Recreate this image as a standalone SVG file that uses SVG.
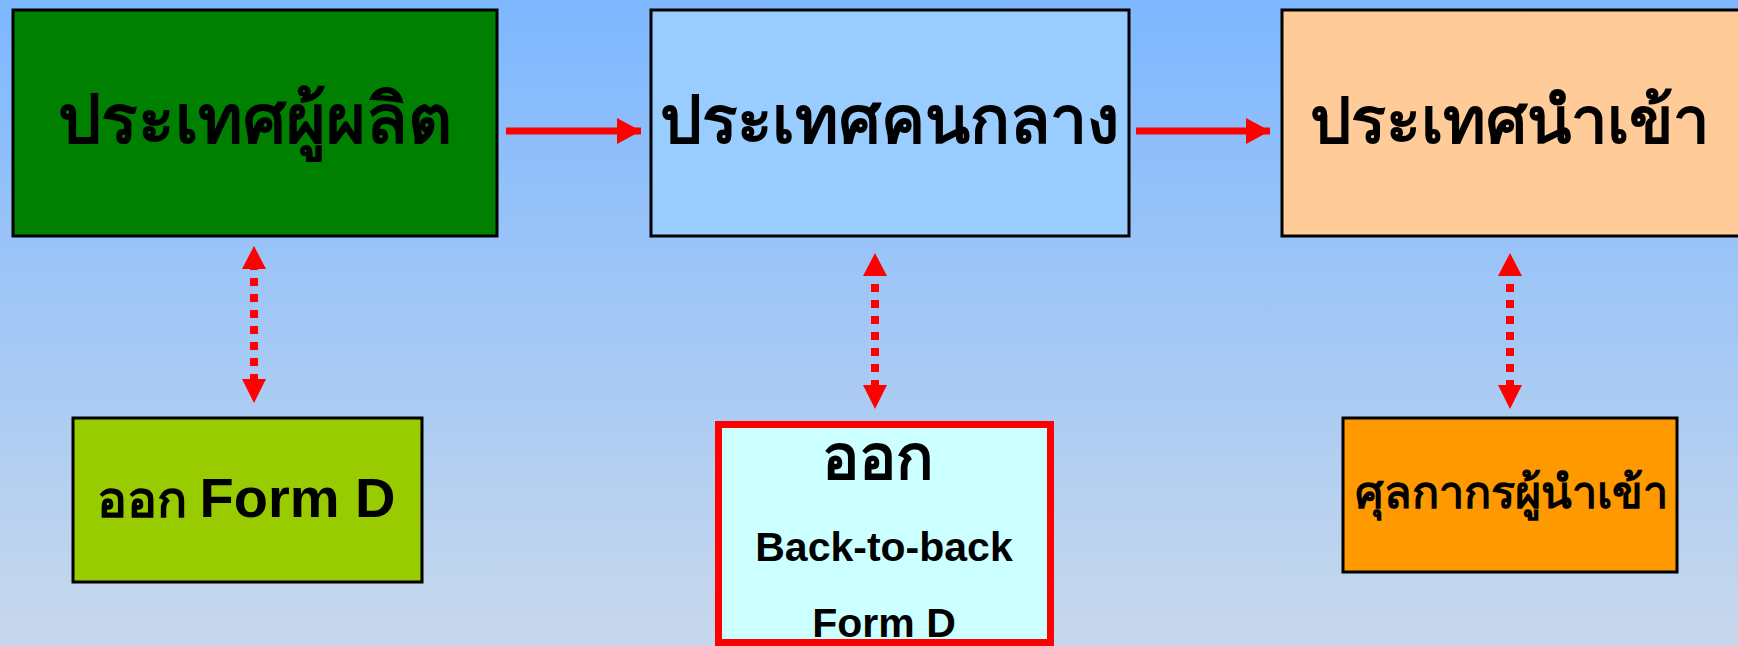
<svg xmlns="http://www.w3.org/2000/svg" width="1738" height="646" viewBox="0 0 1738 646">
<defs>
<linearGradient id="bg" x1="0" y1="0" x2="0" y2="1">
<stop offset="0" stop-color="#7DB7FF"/>
<stop offset="1" stop-color="#C8D8EC"/>
</linearGradient>
<marker id="ah" viewBox="0 0 24 26" refX="24" refY="13" markerWidth="24" markerHeight="26" markerUnits="userSpaceOnUse" orient="auto-start-reverse">
<path d="M0,0 L24,13 L0,26 Z" fill="#FF0000"/>
</marker>
</defs>
<style>
.box{stroke:#000;stroke-width:3}
.th{font-family:"Noto Sans","DejaVu Sans",sans-serif;font-weight:bold;fill:#000;text-anchor:middle}
.en{font-family:"Liberation Sans",Arial,sans-serif;font-weight:bold;fill:#000;text-anchor:middle}
.solid{stroke:#FF0000;stroke-width:7;fill:none}
.dot{stroke:#FF0000;stroke-width:8;fill:none;stroke-dasharray:8 8}
</style>
<rect x="0" y="0" width="1738" height="646" fill="url(#bg)"/>
<g id="producer">
<rect class="box" x="13" y="10" width="484" height="226" fill="#008000"/>
<text class="th" x="255" y="143" font-size="68">ประเทศผู้ผลิต</text>
</g>
<g id="intermediate">
<rect class="box" x="651" y="10" width="478" height="226" fill="#99CCFF"/>
<text class="th" x="889" y="143" font-size="66">ประเทศคนกลาง</text>
</g>
<g id="importer">
<rect class="box" x="1282" y="10" width="470" height="226" fill="#FFCC99"/>
<text class="th" x="1509" y="143" font-size="65">ประเทศนำเข้า</text>
</g>
<g id="formd">
<rect class="box" x="73" y="418" width="349" height="164" fill="#99CC00"/>
<text x="246" y="517" text-anchor="middle"><tspan class="th" font-size="50">ออก </tspan><tspan class="en" font-size="56">Form D</tspan></text>
</g>
<g id="backtoback">
<rect x="718.5" y="424.5" width="332" height="218" fill="#CCFFFF" stroke="#FF0000" stroke-width="7"/>
<text class="th" x="878" y="479" font-size="62">ออก</text>
<text class="en" x="884" y="561" font-size="41">Back-to-back</text>
<text class="en" x="884" y="637" font-size="41">Form D</text>
</g>
<g id="customs">
<rect class="box" x="1343" y="418" width="334" height="154" fill="#FF9900"/>
<text class="th" x="1511" y="508" font-size="45">ศุลกากรผู้นำเข้า</text>
</g>
<g id="connectors">
<line class="solid" x1="506" y1="131" x2="641" y2="131" marker-end="url(#ah)"/>
<line class="solid" x1="1136" y1="131" x2="1270" y2="131" marker-end="url(#ah)"/>
<line class="dot" x1="254" y1="262" x2="254" y2="388"/>
<path d="M242,269 L254,246 L266,269 Z M242,379 L254,403 L266,379 Z" fill="#FF0000"/>
<line class="dot" x1="875" y1="268" x2="875" y2="394"/>
<path d="M863,276 L875,253 L887,276 Z M863,385 L875,409 L887,385 Z" fill="#FF0000"/>
<line class="dot" x1="1510" y1="268" x2="1510" y2="394"/>
<path d="M1498,276 L1510,253 L1522,276 Z M1498,385 L1510,409 L1522,385 Z" fill="#FF0000"/>
</g>
</svg>
